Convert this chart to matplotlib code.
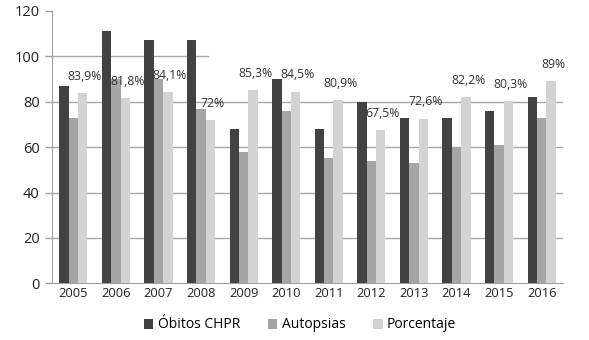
import matplotlib
matplotlib.use("Agg")
import matplotlib.pyplot as plt
import numpy as np

years = ["2005", "2006", "2007", "2008", "2009", "2010", "2011", "2012", "2013", "2014", "2015", "2016"]
obitos = [87, 111, 107, 107, 68, 90, 68, 80, 73, 73, 76, 82]
autopsias = [73, 90, 90, 77, 58, 76, 55, 54, 53, 60, 61, 73]
porcentaje = [83.9, 81.8, 84.1, 72.0, 85.3, 84.5, 80.9, 67.5, 72.6, 82.2, 80.3, 89.0]
pct_labels = ["83,9%", "81,8%", "84,1%", "72%", "85,3%", "84,5%", "80,9%", "67,5%", "72,6%", "82,2%", "80,3%", "89%"]
series_names = ["Óbitos CHPR", "Autopsias", "Porcentaje"]

plt.rcParams['font.family'] = ['Open Sans', 'DejaVu Sans']

fig = plt.figure(figsize=(5.89, 3.40), dpi=100)
ax = fig.add_axes([52/589, 1 - 283.3/340, (563-52)/589, (283.3-11)/340])

x = np.arange(len(years))
w = 0.22
colors = ["#424242", "#a5a5a5", "#d3d3d3"]
ax.bar(x - w, obitos, w, color=colors[0], label=series_names[0], zorder=3)
ax.bar(x, autopsias, w, color=colors[1], label=series_names[1], zorder=3)
ax.bar(x + w, porcentaje, w, color=colors[2], label=series_names[2], zorder=3)

for xi, v, lab in zip(x, porcentaje, pct_labels):
    ax.annotate(lab, (xi + w + 0.05, v), xytext=(0, 12), textcoords="offset points",
                ha="center", va="center", fontsize=8.8, color="#333333", zorder=4)

ax.set_xlim(-0.5, len(years) - 0.5)
ax.set_ylim(0, 120)
ax.set_yticks(range(0, 121, 20))
ax.set_xticks(x)
ax.set_xticklabels(years, fontsize=9.3, color="#222222")
ax.tick_params(axis='y', labelsize=10.5, colors="#222222", length=5, color="#a0a0a0", width=1, pad=4)
ax.tick_params(axis='x', length=0, pad=3)

for yv in [20, 40, 60, 80]:
    ax.axhline(yv, color="#a8a8a8", lw=1, zorder=1)
ax.axhline(100, xmin=0, xmax=(208 - 52) / 511, color="#a8a8a8", lw=1, zorder=1)

for s in ["top", "right"]:
    ax.spines[s].set_visible(False)
ax.spines["left"].set_color("#a0a0a0")
ax.spines["bottom"].set_color("#a0a0a0")

fig.legend(loc="center", bbox_to_anchor=(300/589, 1 - 325/340), ncol=3, frameon=False,
           fontsize=10, handlelength=0.7, handleheight=0.7, handletextpad=0.3, columnspacing=2.0)

fig.savefig("out.png", dpi=100, facecolor="white")
